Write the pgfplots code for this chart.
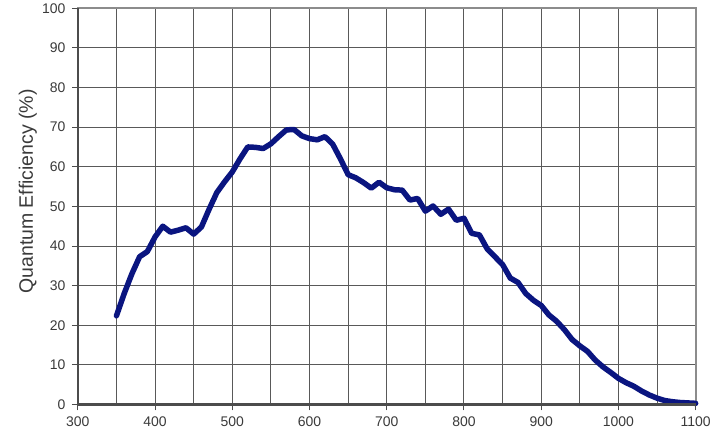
\documentclass[border=0pt]{standalone}
\usepackage{fontspec}
\setmainfont{Liberation Sans}
\usepackage{pgfplots}
\pgfplotsset{compat=1.18}
\definecolor{qeblue}{HTML}{0A1580}
\definecolor{lbl}{HTML}{3A3A3A}
\begin{document}
\begin{tikzpicture}
\begin{axis}[
  scale only axis,
  width=619bp, height=397bp,
  xmin=300, xmax=1100, ymin=0, ymax=100,
  xtick={300,400,...,1100},
  minor xtick={350,450,...,1050},
  ytick={0,10,...,100},
  grid=both,
  major grid style={black!65, line width=1bp},
  minor grid style={black!65, line width=1bp},
  axis line style={black!45, line width=2.2bp},
  tick style={black!70, line width=1bp},
  major tick length=6bp,
  minor tick length=0bp,
  tick align=outside,
  xtick pos=bottom, ytick pos=left,
  /pgf/number format/assume math mode=true,
  /pgf/number format/1000 sep={},
  tick label style={font=\fontsize{14bp}{16bp}\selectfont, text=lbl},
  xticklabel style={yshift=-3bp},
  yticklabel style={xshift=-3bp},
  ylabel={Quantum Efficiency (\%)},
  every axis y label/.style={at={(rel axis cs:0,0.5)}, xshift=-45bp, yshift=15bp,
     rotate=90, anchor=base, font=\fontsize{19.5bp}{22bp}\selectfont, text=lbl},
  clip=false,
]
\addplot[qeblue, line width=5.5bp, line join=round, line cap=round] coordinates {
(350,22.4) (360,28) (370,33) (380,37.3) (390,38.6) (400,42.3) (410,45)
(420,43.5) (430,44) (440,44.6) (450,43) (460,44.8) (470,49.3) (480,53.5)
(490,56.2) (500,58.7) (510,62) (520,65) (530,64.9) (540,64.6) (550,65.8)
(560,67.6) (570,69.3) (580,69.4) (590,67.8) (600,67.1) (610,66.8) (620,67.6)
(630,65.7) (640,62) (650,58) (660,57.2) (670,56) (680,54.6) (690,56.1)
(700,54.7) (710,54.2) (720,54.1) (730,51.6) (740,52) (750,48.8) (760,50.1)
(770,48) (780,49.3) (790,46.5) (800,47) (810,43.2) (820,42.8) (830,39.3)
(840,37.3) (850,35.3) (860,31.9) (870,30.8) (880,28) (890,26.3) (900,25)
(910,22.6) (920,21) (930,18.9) (940,16.4) (950,14.8) (960,13.4) (970,11.2)
(980,9.5) (990,8.1) (1000,6.6) (1010,5.5) (1020,4.6) (1030,3.4) (1040,2.4)
(1050,1.6) (1060,1.0) (1070,0.7) (1080,0.5) (1090,0.4) (1100,0.3)
};
\draw[black!70, line width=2.2bp] (rel axis cs:0,1) -- (rel axis cs:0,0) -- (rel axis cs:1,0);
\path (rel axis cs:0,0) ++(-78bp,-32bp) coordinate (bbll);
\path (rel axis cs:1,1) ++(17bp,7bp) coordinate (bbur);
\path (bbll) rectangle (bbur);
\end{axis}
\end{tikzpicture}
\end{document}
